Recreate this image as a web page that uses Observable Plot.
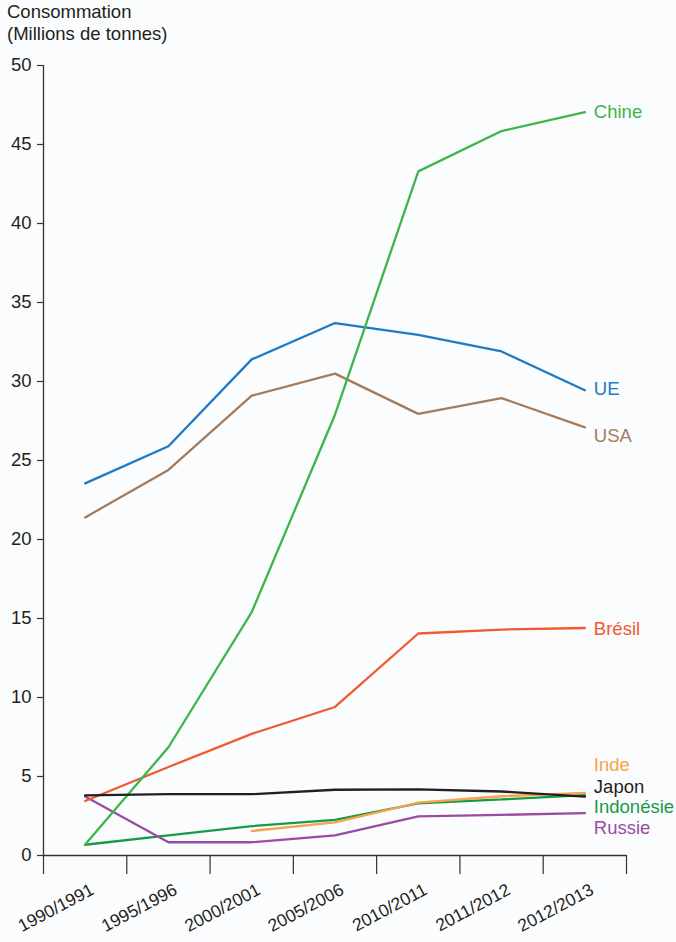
<!DOCTYPE html>
<html>
<head>
<meta charset="utf-8">
<script src="https://cdn.jsdelivr.net/npm/d3@7"></script>
<script src="https://cdn.jsdelivr.net/npm/@observablehq/plot@0.6"></script>
<style>
  html, body { margin: 0; padding: 0; background: #fbfcfe; }
  #wrap { position: relative; width: 676px; height: 942px; font-family: "Liberation Sans", Arial, Helvetica, sans-serif; }
  #title { position: absolute; left: 7px; top: 1px; font-size: 18.5px; line-height: 22px; color: #231f20; }
  svg { display: block; }
</style>
</head>
<body>
<div id="wrap">
  <div id="chart"></div>
  <div id="title">Consommation<br>(Millions de tonnes)</div>
</div>
<script>
const categories = ["1990/1991", "1995/1996", "2000/2001", "2005/2006", "2010/2011", "2011/2012", "2012/2013"];
const yTicks = [0, 5, 10, 15, 20, 25, 30, 35, 40, 45, 50];

const seriesNames = ["Indonésie", "Russie", "Inde", "Brésil", "USA", "UE", "Chine", "Japon"];
const indonesie = [0.68, 1.27, 1.86, 2.26, 3.3, 3.55, 3.82];
const russie    = [3.73, 0.84, 0.84, 1.27, 2.47, 2.57, 2.68];
const inde      = [null, null, 1.55, 2.1, 3.35, 3.75, 3.97];
const bresil    = [3.45, 5.6, 7.7, 9.4, 14.05, 14.3, 14.4];
const usa       = [21.4, 24.4, 29.1, 30.5, 27.95, 28.95, 27.1];
const ue        = [23.55, 25.9, 31.4, 33.7, 32.95, 31.9, 29.45];
const chine     = [0.7, 6.85, 15.4, 27.9, 43.3, 45.85, 47.05];
const japon     = [3.8, 3.88, 3.88, 4.16, 4.18, 4.05, 3.73];
const seriesValues = [indonesie, russie, inde, bresil, usa, ue, chine, japon];

const seriesColors = ["#17994a", "#9a4ca3", "#f9a24b", "#f15a30", "#a57c5b", "#1f7ac4", "#3db54a", "#231f20"];
const labelDy = [12, 15, -28, 1, 9, -1, 0, -9];

const rows = [];
seriesNames.forEach((name, k) => {
  seriesValues[k].forEach((v, i) => {
    if (v != null) rows.push({series: name, i, value: v});
  });
});

const font = "Liberation Sans, Arial, Helvetica, sans-serif";
const last = k => seriesValues[k][seriesValues[k].length - 1];

const plot = Plot.plot({
  width: 676,
  height: 942,
  marginLeft: 43,
  marginRight: 50,
  marginTop: 65,
  marginBottom: 87,
  style: {fontFamily: font, fontSize: "18px", color: "#231f20", background: "#fbfcfe"},
  x: {type: "linear", domain: [-0.5, categories.length - 0.5]},
  y: {domain: [0, 50]},
  color: {domain: seriesNames, range: seriesColors},
  marks: [
    Plot.axisY({ticks: yTicks, tickSize: 6, tickPadding: 6, label: null, fontSize: 18.5, stroke: "#333", strokeWidth: 1.2}),
    Plot.axisX({ticks: d3.range(-0.5, categories.length, 1), tickSize: 19, tickFormat: () => "", label: null, stroke: "#333", strokeWidth: 1.2}),
    Plot.ruleX([-0.5], {stroke: "#333", strokeWidth: 1.3}),
    Plot.ruleY([0], {stroke: "#333", strokeWidth: 1.3}),
    Plot.text(categories, {
      x: (d, i) => i, frameAnchor: "bottom", text: d => d,
      rotate: -28, textAnchor: "end", lineAnchor: "bottom",
      dx: 10, dy: 38, fontSize: 17.5, fill: "#231f20"
    }),
    Plot.line(rows, {x: "i", y: "value", z: "series", stroke: "series", strokeWidth: 2.3, strokeLinejoin: "miter"}),
    ...seriesNames.map((name, k) => Plot.text([name], {
      x: [categories.length - 1], y: [last(k)], text: d => d,
      textAnchor: "start", dx: 9, dy: labelDy[k],
      fill: seriesColors[k], fontSize: 18.5
    }))
  ]
});
document.getElementById("chart").appendChild(plot);
</script>
</body>
</html>
